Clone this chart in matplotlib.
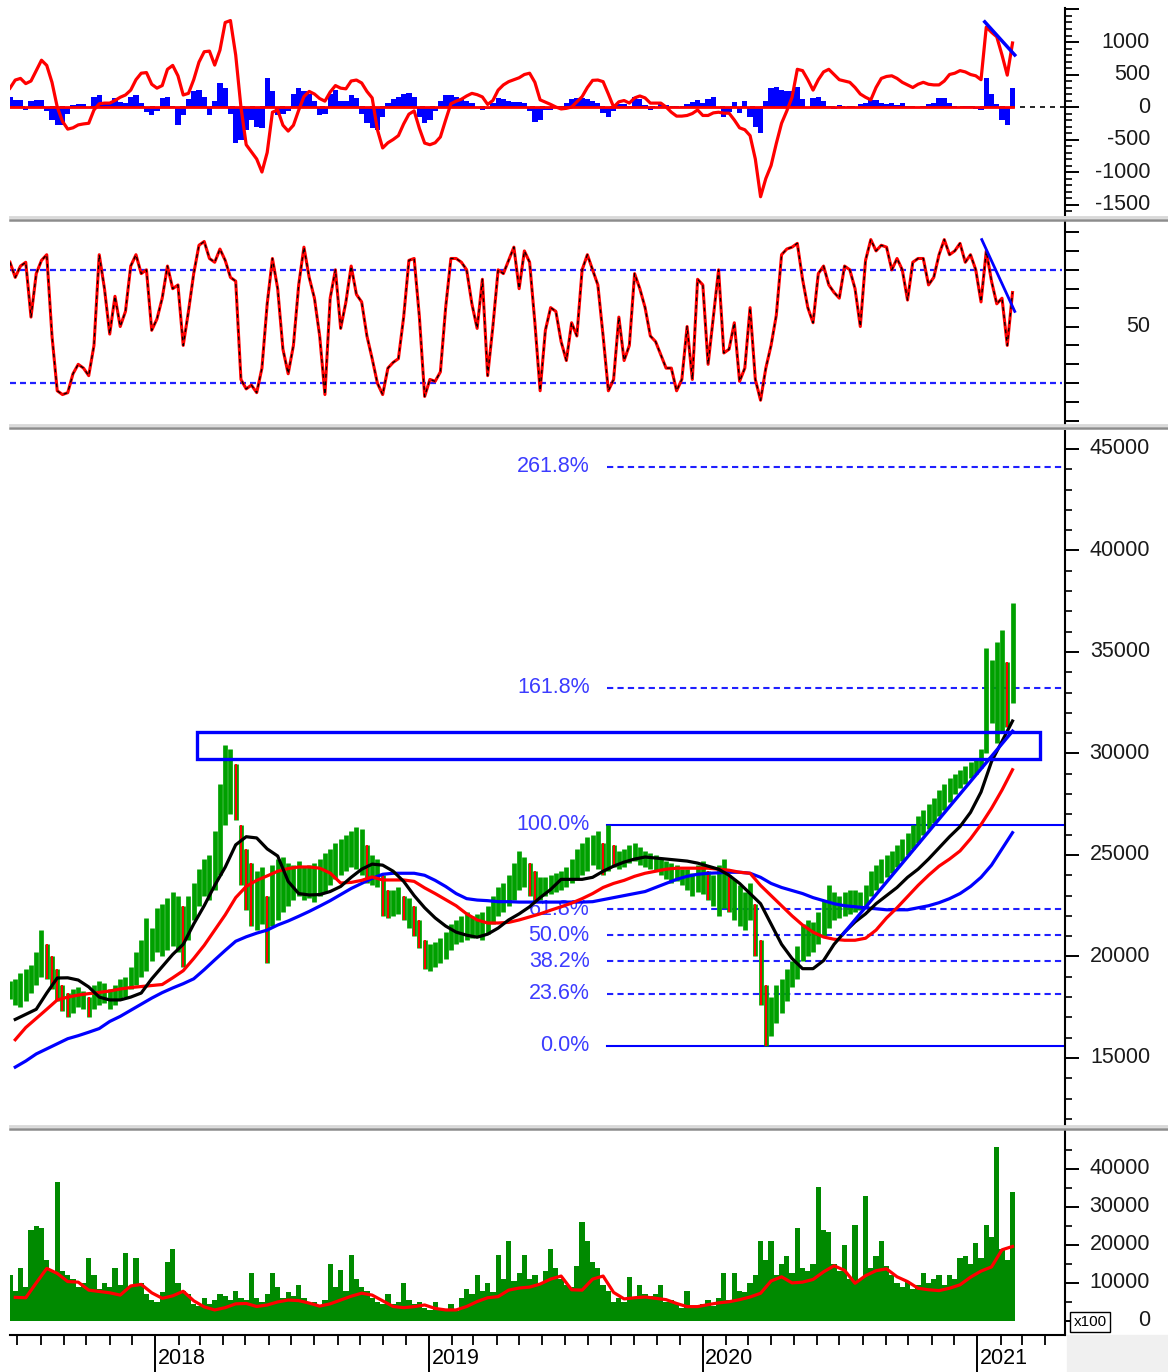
import numpy as np
import pandas as pd
import matplotlib
matplotlib.use("Agg")
import matplotlib.pyplot as plt
import matplotlib.dates as mdates
from matplotlib.ticker import MultipleLocator, NullLocator
from matplotlib.transforms import blended_transform_factory
from matplotlib.patches import Rectangle
from matplotlib.lines import Line2D

plt.rcParams["font.family"] = ["Liberation Sans", "DejaVu Sans"]

# weekly samples (prices in thousands)
weeks = pd.date_range("2017-06-21", periods=192, freq="7D")
ma_weeks = weeks[1::2]

price_low = [
    17.9, 17.6, 17.5, 17.8, 18.2, 18.6, 19.0, 18.9, 18.4, 17.8,
    17.3, 17.0, 17.2, 17.5, 17.4, 17.0, 17.4, 17.6, 17.7, 17.4,
    17.6, 17.9, 18.0, 18.4, 18.6, 19.0, 19.3, 19.8, 20.2, 20.0,
    20.3, 20.5, 20.2, 19.5, 20.8, 21.8, 22.5, 23.0, 22.8, 23.3,
    24.0, 26.5, 27.0, 26.7, 23.5, 22.3, 21.5, 21.3, 21.6, 19.7,
    21.5, 21.8, 22.2, 22.5, 22.8, 23.0, 22.8, 22.9, 22.7, 23.0,
    23.2, 23.5, 23.8, 24.0, 24.2, 24.4, 24.3, 24.0, 23.6, 23.5,
    23.4, 22.0, 21.9, 22.0, 22.1, 21.8, 21.4, 21.0, 20.4, 19.4,
    19.3, 19.5, 19.7, 19.9, 20.3, 20.6, 20.7, 20.8, 20.9, 21.0,
    20.8, 21.1, 21.6, 22.0, 22.2, 22.5, 22.8, 23.3, 23.4, 23.0,
    22.7, 22.8, 23.0, 23.1, 23.2, 23.3, 23.4, 23.6, 23.8, 24.0,
    24.2, 24.5, 24.3, 24.0, 24.2, 24.4, 24.3, 24.4, 24.6, 24.7,
    24.5, 24.4, 24.3, 24.2, 24.0, 23.8, 23.6, 23.7, 23.5, 23.3,
    23.0, 23.2, 23.1, 22.8, 22.5, 22.0, 22.4, 22.2, 21.8, 21.5,
    21.3, 21.8, 20.0, 17.6, 15.6, 16.1, 16.7, 17.2, 17.8, 18.5,
    18.9, 19.8, 20.0, 20.2, 20.6, 21.0, 21.4, 21.8, 21.9, 22.0,
    22.1, 22.2, 22.3, 22.4, 23.0, 23.3, 23.6, 23.9, 24.1, 24.4,
    24.7, 25.0, 25.3, 25.6, 26.0, 26.3, 26.6, 26.9, 27.2, 27.6,
    28.0, 28.3, 28.5, 28.8, 29.0, 29.3, 30.0, 31.5, 30.5, 31.0,
    31.3, 32.5,
]
price_high = [
    18.8, 18.9, 19.2, 19.4, 19.6, 20.2, 21.3, 20.6, 20.0, 19.4,
    18.6, 18.2, 18.4, 18.5, 18.3, 18.0, 18.6, 18.8, 18.7, 18.4,
    18.6, 18.9, 19.0, 19.5, 20.2, 20.8, 21.9, 21.4, 22.4, 22.6,
    22.9, 23.2, 23.0, 22.5, 23.0, 23.6, 24.3, 24.8, 25.0, 26.2,
    28.5, 30.4, 30.2, 29.5, 26.5, 25.3, 24.6, 24.2, 24.4, 23.0,
    24.5, 24.8, 24.9, 24.6, 24.5, 24.7, 24.4, 24.5, 24.6, 24.8,
    25.1, 25.3, 25.6, 25.8, 26.0, 26.2, 26.4, 26.3, 25.5, 25.0,
    24.8, 24.0, 23.3, 23.3, 23.4, 23.0, 22.9, 22.5, 21.8, 20.8,
    20.6, 20.7, 20.9, 21.2, 21.6, 21.8, 22.0, 22.2, 22.0, 22.1,
    22.2, 22.5, 23.0, 23.4, 23.6, 24.0, 24.6, 25.2, 24.9, 24.6,
    24.2, 23.9, 23.9, 24.0, 24.1, 24.2, 24.4, 24.8, 25.3, 25.6,
    25.9, 26.0, 26.2, 25.6, 26.5, 25.5, 25.2, 25.3, 25.5, 25.6,
    25.4, 25.2, 25.1, 25.0, 24.8, 24.7, 24.6, 24.5, 24.3, 24.3,
    24.1, 24.5, 24.7, 24.2, 24.0, 24.5, 24.8, 24.0, 23.8, 23.5,
    23.2, 23.6, 22.6, 20.8, 18.6, 18.0, 18.6, 18.9, 19.4, 19.8,
    20.5, 21.6, 21.8, 21.7, 22.2, 22.8, 23.5, 23.2, 23.0, 23.2,
    23.3, 23.3, 23.2, 23.5, 24.2, 24.5, 24.8, 25.0, 25.2, 25.5,
    25.8, 26.1, 26.5, 26.9, 27.2, 27.5, 27.8, 28.2, 28.5, 28.8,
    29.0, 29.2, 29.4, 29.6, 29.8, 30.2, 35.2, 34.6, 35.5, 36.1,
    34.5, 37.4,
]

# moving averages, every second week
ma_fast = [
    16.9, 17.15, 17.4, 18.2, 18.94, 18.95, 18.84, 18.5, 18.0, 17.86,
    17.86, 18.0, 18.2, 18.9, 19.5, 20.1, 20.6, 21.6, 22.5, 23.5,
    24.4, 25.5, 25.9, 25.84, 25.3, 24.95, 23.7, 23.1, 23.03, 23.05,
    23.2, 23.45, 23.9, 24.3, 24.55, 24.5, 24.2, 23.7, 23.0, 22.4,
    21.9, 21.5, 21.2, 21.05, 20.95, 21.1, 21.4, 21.8, 22.1, 22.45,
    22.9, 23.3, 23.8, 23.8, 23.8, 23.9, 24.2, 24.45, 24.65, 24.8,
    24.9, 24.85, 24.8, 24.75, 24.7, 24.6, 24.45, 24.3, 24.0, 23.6,
    23.1, 22.6, 21.6, 20.6, 19.9, 19.4, 19.4, 19.8, 20.6, 21.2,
    21.7, 22.1, 22.6, 23.0, 23.4, 23.9, 24.3, 24.8, 25.35, 25.9,
    26.4, 27.1, 28.1, 29.6, 30.6, 31.6,
]
ma_mid = [
    15.9, 16.5, 16.95, 17.4, 17.86, 18.0, 18.1, 18.17, 18.23, 18.3,
    18.4, 18.47, 18.52, 18.57, 18.62, 18.95, 19.3, 19.9, 20.55, 21.3,
    22.05, 22.9, 23.45, 23.75, 23.97, 24.2, 24.33, 24.41, 24.41, 24.35,
    24.11, 23.62, 23.65, 23.75, 23.92, 23.77, 23.77, 23.77, 23.7, 23.38,
    23.1, 22.8, 22.5, 22.1, 21.8, 21.65, 21.65, 21.68, 21.8, 21.95,
    22.1, 22.28, 22.45, 22.63, 22.85, 23.1, 23.4, 23.6, 23.75, 23.95,
    24.1, 24.2, 24.3, 24.35, 24.35, 24.35, 24.35, 24.3, 24.25, 24.15,
    24.1, 23.5, 23.0, 22.5, 22.0, 21.55, 21.2, 20.96, 20.85, 20.8,
    20.8, 20.9, 21.3, 21.9, 22.4, 22.95, 23.5, 24.0, 24.45, 24.8,
    25.2, 25.8, 26.5, 27.3, 28.2, 29.2,
]
ma_slow = [
    14.55, 14.85, 15.2, 15.45, 15.7, 15.95, 16.1, 16.27, 16.45, 16.8,
    17.05, 17.35, 17.65, 17.95, 18.22, 18.45, 18.66, 18.9, 19.35, 19.83,
    20.3, 20.75, 20.97, 21.15, 21.3, 21.55, 21.75, 21.98, 22.22, 22.48,
    22.75, 23.05, 23.35, 23.6, 23.85, 24.05, 24.1, 24.1, 24.1, 24.0,
    23.75, 23.45, 23.1, 22.85, 22.78, 22.75, 22.7, 22.7, 22.68, 22.68,
    22.68, 22.68, 22.68, 22.68, 22.68, 22.7, 22.8, 22.9, 23.0, 23.1,
    23.2, 23.4, 23.6, 23.8, 23.95, 24.05, 24.1, 24.12, 24.15, 24.15,
    24.1, 23.9, 23.6, 23.4, 23.25, 23.1, 22.9, 22.75, 22.6, 22.5,
    22.45, 22.4, 22.35, 22.3, 22.3, 22.3, 22.4, 22.5, 22.65, 22.85,
    23.1, 23.45, 23.9, 24.5, 25.3, 26.1,
]

macd = [
    290, 415, 440, 360, 400, 560, 720, 640, 380, 0,
    -220, -340, -320, -275, -260, -250, -45, 50, 60, 60,
    100, 150, 185, 260, 420, 520, 530, 350, 290, 330,
    580, 640, 480, 185, 210, 420, 690, 850, 860, 645,
    875, 1300, 1330, 800, 0, -580, -690, -800, -1000, -700,
    -80, -45, -280, -370, -280, -50, 160, 240, 200, 130,
    90, 230, 330, 290, 280, 400, 415, 370, 240, 140,
    -350, -630, -550, -500, -440, -260, -110, -60, -330, -555,
    -580, -550, -460, -200, 50, 90, 120, 170, 210, 190,
    155, 40, 100, 260, 340, 390, 420, 450, 500, 520,
    380, 110, 75, 40, 0, -30, -20, 0, 80, 160,
    300, 410, 415, 390, 200, 0, 80, 100, 60, 140,
    170, 140, 60, 60, 60, 0, -80, -140, -140, -130,
    -100, -45, -130, -130, -90, -80, -95, -95, -200, -320,
    -350, -440, -800, -1380, -1100, -900, -560, -250, -60, 150,
    580, 560, 420, 260, 420, 540, 580, 500, 420, 400,
    380, 300, 200, 150, 110, 300, 440, 470, 480, 440,
    380, 340, 300, 350, 380, 350, 340, 340, 400, 500,
    520, 560, 540, 500, 480, 420, 1230, 1150, 1080, 800,
    490, 985,
]
macd_hist = [
    155, 110, 110, -40, 100, 110, 110, -60, -200, -270,
    -280, -100, 30, 45, 45, -20, 150, 185, 60, 60,
    140, 80, 60, 150, 185, 60, -80, -125, -60, 140,
    155, 20, -280, -120, 120, 240, 260, 150, -120, 100,
    370, 300, -100, -555, -500, -350, -200, -300, -330, 445,
    250, -120, -100, -60, 200, 290, 250, 200, 100, -120,
    -100, 200, 260, 100, 100, 180, 140, -100, -250, -320,
    -355, -150, 60, 120, 160, 200, 215, 150, -150, -250,
    -200, -60, 100, 185, 180, 150, 120, 100, 60, -20,
    -40, -30, 60, 140, 130, 100, 70, 70, 60, -60,
    -230, -200, -40, -40, -20, 20, 60, 120, 140, 140,
    130, 100, 60, -95, -150, -60, 45, 40, 20, 155,
    120, 30, -40, 0, 50, 30, -20, 20, -10, 40,
    80, 110, 60, 120, 155, -20, -150, -80, 80, -90,
    100, -150, -300, -400, 100, 300, 310, 260, 250, 250,
    310, 120, -20, 140, 155, 100, 20, -30, 30, 0,
    20, -20, 40, 60, 110, 110, 60, 40, 60, 30,
    60, 20, 0, 0, 20, 40, 60, 140, 140, 60,
    20, 0, 20, 10, -30, -40, 445, 200, 40, -200,
    -275, 290,
]

rsi = [
    84, 76, 82, 84, 55, 78, 85, 88, 45, 16,
    14, 15, 25, 30, 28, 24, 40, 88, 70, 46,
    66, 50, 58, 82, 88, 78, 80, 48, 54, 65,
    82, 70, 72, 40, 58, 78, 93, 95, 86, 84,
    91, 85, 76, 74, 22, 17, 19, 15, 28, 62,
    86, 70, 38, 25, 40, 72, 92, 76, 65, 45,
    14, 65, 80, 49, 63, 82, 67, 63, 45, 33,
    20, 14, 28, 31, 33, 55, 85, 86, 55, 13,
    22, 21, 26, 60, 86, 86, 84, 80, 62, 49,
    75, 24, 50, 80, 78, 85, 92, 70, 90, 84,
    52, 16, 48, 60, 58, 42, 32, 52, 45, 80,
    88, 80, 72, 45, 16, 22, 55, 32, 40, 78,
    70, 60, 45, 42, 35, 28, 28, 16, 22, 50,
    22, 75, 72, 30, 55, 80, 36, 38, 52, 21,
    28, 60, 22, 11, 28, 40, 56, 88, 91, 92,
    94, 75, 60, 52, 78, 82, 72, 68, 65, 82,
    80, 70, 50, 85, 96, 90, 93, 92, 80, 86,
    80, 64, 84, 86, 86, 72, 76, 88, 96, 88,
    90, 94, 84, 88, 80, 63, 90, 74, 62, 65,
    40, 68,
]

volume = [
    12000, 8000, 14000, 9000, 24000, 25000, 24500, 16000, 13000, 36600,
    13000, 12000, 11000, 9000, 10000, 16500, 12000, 8500, 10000, 9000,
    14000, 9500, 17800, 9000, 16500, 10000, 7000, 5500, 5000, 7500,
    15500, 18900, 10000, 8000, 7000, 4500, 4000, 6000, 4500, 5500,
    7000, 6500, 5500, 8000, 6000, 5500, 12500, 6000, 5000, 7000,
    12500, 9000, 6000, 7500, 6500, 9500, 6000, 4500, 5000, 4000,
    5500, 15000, 9000, 13500, 8000, 17300, 11000, 9000, 8000, 6000,
    5000, 4500, 7000, 4500, 5000, 10000, 5500, 4500, 5000, 3500,
    3000, 5000, 3500, 3000, 4500, 2500, 6000, 8500, 7000, 12000,
    8000, 10000, 7500, 17300, 11000, 20900, 10500, 12500, 17300, 11000,
    12000, 10000, 13000, 18900, 14000, 11000, 9500, 9000, 14500, 26000,
    21000, 15500, 14000, 9500, 8000, 5000, 6000, 5000, 11500, 6000,
    9500, 7000, 6500, 7000, 9500, 5000, 5500, 4500, 3500, 8000,
    3500, 4000, 4500, 5500, 4000, 6000, 12500, 5500, 12500, 8000,
    7500, 10000, 12000, 20900, 16000, 20900, 12000, 15000, 17000, 12500,
    24400, 14000, 13000, 15000, 35300, 24000, 23500, 15000, 13000, 20000,
    11000, 25300, 11000, 32900, 14000, 17000, 20900, 14500, 12000, 10000,
    9000, 10500, 8500, 9500, 12500, 10000, 11000, 12000, 9500, 12000,
    11000, 16500, 17000, 15000, 20600, 16500, 25300, 22000, 45800, 19000,
    16000, 34000,
]
volume_ma = [
    6200, 6100, 10000, 13800, 12500, 10350, 10200, 8100, 7750, 7400,
    6800, 9200, 9600, 7400, 5960, 6600, 7800, 5300, 3700, 2900,
    3500, 4500, 4600, 3800, 4200, 5000, 5500, 5350, 4700, 3900,
    4500, 5500, 6500, 7300, 6800, 5300, 3800, 3500, 3770, 4200,
    3300, 2900, 2900, 3800, 5100, 6100, 6400, 8100, 8650, 8900,
    9700, 11000, 11800, 8200, 8100, 11000, 11800, 7500, 5800, 6100,
    6300, 5950, 5600, 4600, 3770, 3770, 4300, 4750, 5050, 5600,
    6300, 7280, 10500, 11600, 10000, 10200, 10900, 12900, 14500, 13300,
    9900, 11900, 13200, 13700, 11600, 10350, 8600, 8200, 7980, 8600,
    9500, 11500, 13100, 14200, 18700, 19570,
]

fib_zero = 15600
fib_full = 26500
fib_ratios = [0.0, 0.236, 0.382, 0.5, 0.618, 1.0, 1.618, 2.618]
resist_low, resist_high = 29730, 31060

low = np.array(price_low) * 1000
high = np.array(price_high) * 1000

W, H = 1168, 1372
fig = plt.figure(figsize=(W / 100, H / 100), dpi=100)
fig.patch.set_facecolor("white")
x_start = weeks[0]
x_end = pd.Timestamp("2021-04-28")
num_font = 15.5


def panel(top, bottom):
    ax = fig.add_axes([10 / W, 1 - bottom / H, 1055 / W, (bottom - top) / H])
    ax.set_xlim(x_start, x_end)
    for s in ("left", "top", "bottom"):
        ax.spines[s].set_visible(False)
    ax.spines["right"].set_linewidth(1.5)
    ax.yaxis.tick_right()
    ax.tick_params(axis="y", which="major", length=10, width=1.4, labelright=False)
    ax.tick_params(axis="y", which="minor", length=5, width=1.2)
    ax.tick_params(axis="x", which="both", bottom=False, labelbottom=False)
    return ax


def right_labels(ax, values):
    tr = blended_transform_factory(fig.transFigure, ax.transData)
    for v in values:
        ax.text(1150 / W, v, str(v), transform=tr, ha="right", va="center",
                fontsize=num_font, color="#1a1a1a")


# MACD
ax1 = panel(8, 215)
ax1.set_ylim(-1661, 1523)
ax1.yaxis.set_major_locator(MultipleLocator(500))
ax1.yaxis.set_minor_locator(MultipleLocator(100))
ax1.bar(weeks, macd_hist, width=7, color="#0000ff", lw=0)
ax1.axhline(0, color="black", ls=(0, (3, 3)), lw=1.2)
ax1.plot([weeks[0], weeks[-1]], [0, 0], color="red", lw=2)
ax1.plot(weeks, macd, color="red", lw=2.3)
ax1.plot(pd.to_datetime(["2021-01-11", "2021-02-20"]), [1310, 800], color="blue", lw=2.5)
right_labels(ax1, [1000, 500, 0, -500, -1000, -1500])

# RSI
ax2 = panel(222, 425)
ax2.set_ylim(-2.1, 105.3)
ax2.yaxis.set_major_locator(MultipleLocator(10))
ax2.yaxis.set_minor_locator(NullLocator())
ax2.hlines([20, 80], x_start, pd.Timestamp("2021-04-24"), colors="#2020ff",
           linestyles=(0, (2.7, 1.8)), lw=1.6)
ax2.plot(weeks, rsi, color="red", lw=2.2)
ax2.plot(weeks, rsi, color="black", lw=0.9, ls=(0, (3, 3)))
ax2.plot(pd.to_datetime(["2021-01-07", "2021-02-20"]), [96, 58], color="blue", lw=2)
right_labels(ax2, [50])

# price
ax3 = panel(431, 1126)
ax3.set_ylim(11650, 45886)
ax3.yaxis.set_major_locator(MultipleLocator(5000))
ax3.yaxis.set_minor_locator(MultipleLocator(1000))

fib_label_x = mdates.date2num(pd.Timestamp("2019-08-03"))
fib_x0 = pd.Timestamp("2019-08-26")
for r in fib_ratios:
    lvl = fib_zero + r * (fib_full - fib_zero)
    if r in (0.0, 1.0):
        ax3.plot([fib_x0, x_end], [lvl, lvl], color="#0000ff", lw=1.5, zorder=2)
    else:
        ax3.plot([fib_x0, pd.Timestamp("2021-04-24")], [lvl, lvl], color="#2020ff",
                 lw=1.5, ls=(0, (3, 2)), zorder=2)
    ax3.text(fib_label_x, lvl, f"{r * 100:.1f}%", ha="right", va="center",
             color="#3c3cff", fontsize=num_font, zorder=2.5)

mid = (low + high) / 2
down = np.r_[False, mid[1:] < mid[:-1] - 300]
ax3.vlines(weeks, low, high, color="#00a000", lw=3.4, zorder=3)
ax3.vlines(weeks[down], low[down], high[down], color="red", lw=1.4, zorder=3.1)

ax3.plot(ma_weeks, np.array(ma_slow) * 1000, color="#0000ff", lw=2.3, zorder=4)
ax3.plot(ma_weeks, np.array(ma_mid) * 1000, color="red", lw=2.3, zorder=4)
ax3.plot(ma_weeks, np.array(ma_fast) * 1000, color="black", lw=2.3, zorder=4)

box_x0 = mdates.date2num(pd.Timestamp("2018-02-25"))
box_x1 = mdates.date2num(pd.Timestamp("2021-03-25"))
ax3.add_patch(Rectangle((box_x0, resist_low), box_x1 - box_x0, resist_high - resist_low,
                        fill=False, ec="#0000ff", lw=2.4, zorder=5))
ax3.plot(pd.to_datetime(["2020-07-06", "2021-02-17"]), [21100, 31100], color="#0000ff",
         lw=2.4, zorder=5)
right_labels(ax3, [15000, 20000, 25000, 30000, 35000, 40000, 45000])

# volume
ax4 = panel(1131, 1335)
ax4.set_ylim(-3684, 49900)
ax4.yaxis.set_major_locator(MultipleLocator(10000))
ax4.yaxis.set_minor_locator(MultipleLocator(5000))
ax4.bar(weeks, volume, width=7, color="#008a00", lw=0)
ax4.plot(ma_weeks, volume_ma, color="red", lw=2.3)
right_labels(ax4, [0, 10000, 20000, 30000, 40000])

ax4.spines["bottom"].set_visible(True)
ax4.spines["bottom"].set_linewidth(1.5)
ax4.xaxis.set_major_locator(mdates.YearLocator())
ax4.xaxis.set_minor_locator(mdates.MonthLocator())
ax4.tick_params(axis="x", which="major", bottom=True, length=27, width=1.4, labelbottom=False)
ax4.tick_params(axis="x", which="minor", bottom=True, length=7, width=1.3)
trx = blended_transform_factory(ax4.transData, ax4.transAxes)
for yr in [2018, 2019, 2020, 2021]:
    ax4.text(mdates.date2num(pd.Timestamp(f"{yr}-01-04")), -0.113, str(yr), transform=trx,
             ha="left", va="center", fontsize=num_font, clip_on=False)

fig.text(1090 / W, 1 - 1322 / H, "x100", ha="center", va="center", fontsize=11,
         bbox=dict(boxstyle="square,pad=0.2", fc="white", ec="black", lw=1))
fig.patches.append(Rectangle((1067 / W, 0), (W - 1067) / W, 37 / H,
                             transform=fig.transFigure, color="#f0f0f0", zorder=0))

# panel separators
for y in (219, 427, 1128):
    fig.add_artist(Line2D([10 / W, 1], [1 - (y - 2) / H] * 2, color="#d8d8d8", lw=2))
    fig.add_artist(Line2D([10 / W, 1], [1 - (y + 1) / H] * 2, color="#8c8c8c", lw=1.8))

fig.savefig("out.png", dpi=100)
